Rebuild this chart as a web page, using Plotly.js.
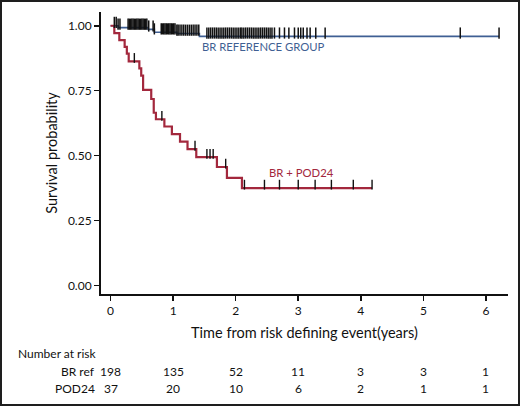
<!DOCTYPE html>
<html>
<head>
<meta charset="utf-8">
<script src="https://cdn.plot.ly/plotly-3.0.1.min.js"></script>
<style>
  html, body { margin: 0; padding: 0; background: #fff; }
  #wrap { position: relative; width: 520px; height: 406px; }
  #chart { position: absolute; left: 0; top: 0; width: 520px; height: 406px; }
  #frame { position: absolute; left: 0; top: 0; width: 520px; height: 406px; box-sizing: border-box; border: 2px solid #1e1e1e; pointer-events: none; }
</style>
</head>
<body>
<div id="wrap"><div id="chart"></div><div id="frame"></div></div>
<script>
// Kaplan-Meier step data
const refTimes = [0, 0.12, 0.60, 0.70, 1.06, 1.42, 6.21];
const refSurv  = [1.000, 0.993, 0.986, 0.975, 0.970, 0.959, 0.959];
const refCensor = [0.06, 0.09, 0.12, 0.15,
  0.28, 0.30, 0.32, 0.34, 0.36, 0.38, 0.40, 0.42, 0.44, 0.46, 0.48, 0.50, 0.52, 0.54, 0.56, 0.58, 0.61,
  0.68, 0.70,
  0.81, 0.83, 0.85, 0.87, 0.89, 0.91, 0.93, 0.95, 0.97, 0.99, 1.01, 1.03, 1.06,
  1.08, 1.11, 1.14, 1.17, 1.20, 1.23, 1.26, 1.29, 1.32, 1.35, 1.38, 1.41,
  1.54, 1.57, 1.60, 1.63, 1.66, 1.69, 1.72, 1.75, 1.78, 1.81, 1.84, 1.87, 1.90, 1.93, 1.96, 1.99, 2.02, 2.05, 2.08, 2.10,
  2.13, 2.16, 2.19, 2.22, 2.25, 2.28, 2.31, 2.34, 2.37, 2.40, 2.43, 2.46, 2.49, 2.52, 2.55, 2.58,
  2.62, 2.70, 2.78, 2.85, 2.94, 3.00, 3.04, 3.08, 3.14, 3.19, 3.28, 3.43, 5.59, 6.21];

const podTimes = [0, 0.06, 0.14, 0.225, 0.26, 0.29, 0.46, 0.49, 0.52, 0.65, 0.69, 0.725, 0.86, 0.98, 1.11, 1.23, 1.37, 1.70, 1.86, 2.10, 4.18];
const podSurv  = [1.000, 0.972, 0.945, 0.919, 0.893, 0.863, 0.836, 0.808, 0.753, 0.718, 0.665, 0.640, 0.612, 0.583, 0.554, 0.525, 0.494, 0.456, 0.414, 0.375, 0.375];
const podCensor = [0.38, 0.82, 1.35, 1.54, 1.59, 1.64, 1.84, 2.14, 2.46, 2.70, 3.00, 3.27, 3.53, 3.88, 4.18];

// Risk table
const riskTimes = [0, 1, 2, 3, 4, 5, 6];
const riskRef   = [198, 135, 52, 11, 3, 3, 1];
const riskPod   = [37, 20, 10, 6, 2, 1, 1];
const groupRows = ['BR ref', 'POD24'];

const blue = '#3f5f93';
const red = '#a3283d';
const FONT = 'Lato, "Open Sans", sans-serif';

function survAt(times, surv, t) {
  let v = surv[0];
  for (let i = 0; i < times.length; i++) { if (times[i] <= t) v = surv[i]; }
  return v;
}

const tickLift = 0.013;
const traces = [
  { x: refTimes, y: refSurv, mode: 'lines', line: { shape: 'hv', color: blue, width: 1.6 }, hoverinfo: 'skip' },
  { x: podTimes, y: podSurv, mode: 'lines', line: { shape: 'hv', color: red, width: 2.2 }, hoverinfo: 'skip' },
  { x: refCensor, y: refCensor.map(t => survAt(refTimes, refSurv, t) + tickLift), mode: 'markers',
    marker: { symbol: 'line-ns', size: 8, color: '#111', line: { color: '#111', width: 1.5 } }, hoverinfo: 'skip' },
  { x: podCensor, y: podCensor.map(t => survAt(podTimes, podSurv, t) + tickLift), mode: 'markers',
    marker: { symbol: 'line-ns', size: 7, color: '#111', line: { color: '#111', width: 1.4 } }, hoverinfo: 'skip' }
];

const rowY = [-0.274, -0.334];
const annotations = [
  { x: 1.48, y: 0.922, xref: 'x', yref: 'y', text: 'BR REFERENCE GROUP', showarrow: false, xanchor: 'left', yanchor: 'middle',
    xshift: -3, font: { family: FONT, size: 11.3, color: blue } },
  { x: 2.55, y: 0.435, xref: 'x', yref: 'y', text: 'BR + POD24', showarrow: false, xanchor: 'left', yanchor: 'middle',
    xshift: -3, font: { family: FONT, size: 11.3, color: red } },
  { x: 0, y: -0.212, xref: 'paper', yref: 'paper', text: 'Number at risk', showarrow: false,
    xanchor: 'left', yanchor: 'middle', xshift: -85, font: { family: FONT, size: 12, color: '#111' } }
];
groupRows.forEach((g, r) => {
  annotations.push({ x: 0, y: rowY[r], xref: 'paper', yref: 'paper', text: g, showarrow: false,
    xanchor: 'right', yanchor: 'middle', xshift: -4, font: { family: FONT, size: 12, color: '#111' } });
  const vals = r === 0 ? riskRef : riskPod;
  riskTimes.forEach((t, i) => {
    annotations.push({ x: t, y: rowY[r], xref: 'x', yref: 'paper', text: String(vals[i]), showarrow: false,
      xanchor: 'center', yanchor: 'middle', font: { family: FONT, size: 12, color: '#111' } });
  });
});

const layout = {
  width: 520, height: 406,
  margin: { l: 101, r: 12, t: 12, b: 112 },
  paper_bgcolor: '#fff', plot_bgcolor: '#fff',
  showlegend: false,
  font: { family: FONT, color: '#111' },
  xaxis: {
    range: [-0.153, 6.353], tickvals: riskTimes, ticktext: riskTimes.map(String),
    showline: true, linecolor: '#111', linewidth: 2, ticks: 'outside', ticklen: 5, tickwidth: 1.5, tickcolor: '#111',
    showgrid: false, zeroline: false, tickfont: { family: FONT, size: 12, color: '#111' },
    title: { text: 'Time from risk defining event(years)', font: { family: FONT, size: 14.5, color: '#111' }, standoff: 10 }
  },
  yaxis: {
    range: [-0.033, 1.053], tickvals: [0, 0.25, 0.5, 0.75, 1], tickformat: '.2f',
    showline: true, linecolor: '#111', linewidth: 2, ticks: 'outside', ticklen: 5, tickwidth: 1.5, tickcolor: '#111',
    showgrid: false, zeroline: false, tickfont: { family: FONT, size: 12, color: '#111' },
    title: { text: 'Survival probability', font: { family: FONT, size: 14.5, color: '#111' }, standoff: 7 }
  },
  annotations: annotations
};

Plotly.newPlot('chart', traces, layout, { staticPlot: true, displayModeBar: false });
</script>
</body>
</html>
